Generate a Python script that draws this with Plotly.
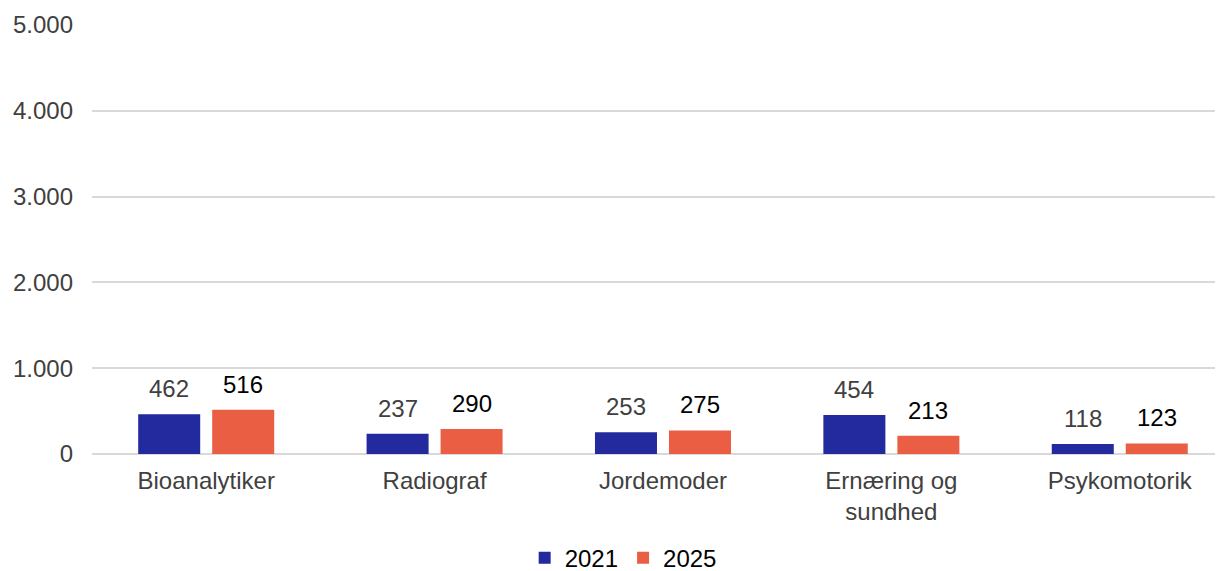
import plotly.graph_objects as go

categories = ["Bioanalytiker", "Radiograf", "Jordemoder", "Ernæring og<br>sundhed", "Psykomotorik"]
series_names = ["2021", "2025"]
values_2021 = [462, 237, 253, 454, 118]
values_2025 = [516, 290, 275, 213, 123]
y_ticks = [0, 1000, 2000, 3000, 4000, 5000]
y_tick_labels = ["0", "1.000", "2.000", "3.000", "4.000", "5.000"]

colors = ["#222A9E", "#EA5F44"]
label_colors = ["#404040", "#000000"]
FONT = "Liberation Sans, Arial, sans-serif"

fig = go.Figure()
for name, vals, col in zip(series_names, [values_2021, values_2025], colors):
    fig.add_trace(go.Bar(x=categories, y=vals, name=name, marker_color=col,
                         marker_line_width=0, hoverinfo="skip"))

# data labels
offsets = [-37, 37]
for vals, dx, lc in zip([values_2021, values_2025], offsets, label_colors):
    for c, v in zip(categories, vals):
        fig.add_annotation(x=c, y=v, xref="x", yref="y", text=f"{v}",
                           showarrow=False, xshift=dx, yshift=10,
                           yanchor="bottom", font=dict(size=24, color=lc, family=FONT))

fig.update_layout(
    width=1223, height=571,
    margin=dict(l=84, r=8, t=17, b=125, autoexpand=False),
    paper_bgcolor="white", plot_bgcolor="white",
    barmode="group", bargap=0.352, bargroupgap=0.162,
    font=dict(family=FONT, size=24, color="#404040"),
    showlegend=True,
    legend=dict(orientation="h", xref="container", yref="paper",
                x=0.503, xanchor="center", y=-0.243, yanchor="middle",
                font=dict(size=24, color="#000000"), itemwidth=30,
                traceorder="normal"),
)
fig.update_xaxes(range=[-0.5, 4.452], showgrid=False, showline=False, automargin=False,
                 ticklabelstandoff=10,
                 tickfont=dict(size=24, color="#404040"), ticks="", fixedrange=True)
fig.update_yaxes(range=[0, 5000], tickvals=y_ticks, ticktext=y_tick_labels,
                 showgrid=True, gridcolor="#D9D9D9", gridwidth=1.5, automargin=False,
                 zeroline=True, zerolinecolor="#D9D9D9", zerolinewidth=1.5,
                 showline=False, ticklabelstandoff=18,
                 tickfont=dict(size=24, color="#404040"), fixedrange=True)

fig.write_html("out.html")
